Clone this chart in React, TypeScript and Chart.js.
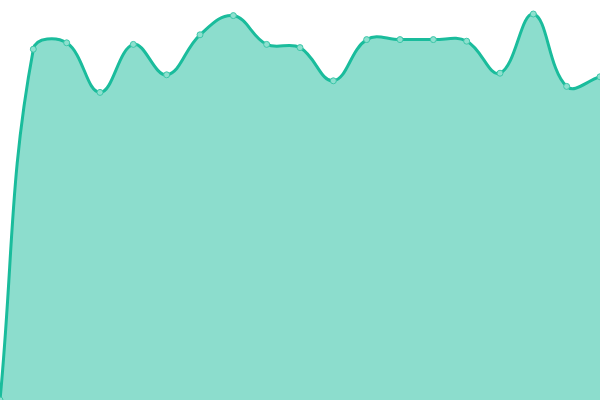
import { useEffect, useRef } from "react";
import { Chart, registerables } from "chart.js";

Chart.register(...registerables);

const labels = [
  "1", "2", "3", "4", "5", "6", "7", "8", "9", "10",
  "11", "12", "13", "14", "15", "16", "17", "18", "19",
];
const values = [
  0, 87.7, 89.3, 76.9, 88.9, 81.3, 91.3, 96.1, 88.9, 88.1,
  79.8, 90.1, 90.1, 90.1, 89.7, 81.7, 96.5, 78.4, 80.8,
];

export default function App() {
  const canvasRef = useRef<HTMLCanvasElement>(null);

  useEffect(() => {
    document.body.style.margin = "0";
    if (!canvasRef.current) return;
    const chart = new Chart(canvasRef.current, {
      type: "line",
      data: {
        labels,
        datasets: [
          {
            data: values,
            borderColor: "#1abc9c",
            backgroundColor: "rgba(26, 188, 156, 0.5)",
            borderWidth: 3,
            tension: 0.4,
            fill: true,
            pointRadius: 3,
            pointBorderWidth: 1,
            pointBackgroundColor: "#8ee0cf",
            pointBorderColor: "#3cc6a8",
          },
        ],
      },
      options: {
        animation: false,
        responsive: true,
        maintainAspectRatio: false,
        layout: { padding: 0, autoPadding: false },
        plugins: {
          legend: { display: false },
          tooltip: { enabled: false },
        },
        scales: {
          x: { display: false },
          y: { display: false, min: 0, max: 100 },
        },
      },
    });
    return () => chart.destroy();
  }, []);

  return (
    <div style={{ width: 600, height: 400 }}>
      <canvas ref={canvasRef}></canvas>
    </div>
  );
}
